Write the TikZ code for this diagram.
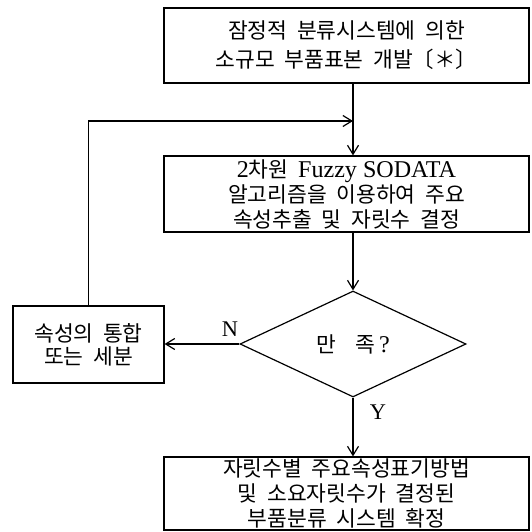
\documentclass[tikz,border=0pt]{standalone}
\usepackage{fontspec}
\setmainfont{Liberation Serif}[Scale=1.12]
\newfontfamily\kr{Noto Sans CJK KR}[WordSpace=2]
\usetikzlibrary{shapes.geometric,arrows.meta}
\newcommand\lat[1]{{\rmfamily #1}}
\tikzset{
  box/.style={draw, line width=1.2pt, minimum width=365pt, inner sep=0pt, align=center,
    font=\kr\fontsize{21.5}{25}\selectfont},
  conn/.style={line width=1.2pt, -{Straight Barb[length=9pt,width=11pt,line width=1.2pt]}},
  lbl/.style={font=\rmfamily\fontsize{20}{24}\selectfont, inner sep=0pt}
}
\begin{document}
\begin{tikzpicture}[x=1pt,y=-1pt]
\useasboundingbox (0,0) rectangle (531,532);
\node[box, minimum height=75pt, font=\kr\fontsize{21.5}{29}\selectfont] (top) at (346.5,45.5)
  {잠정적 분류시스템에 의한\\소규모 부품표본 개발〔＊〕};
\node[box, minimum height=76pt] (mid) at (346.5,194)
  {\lat{2}차원 \lat{Fuzzy SODATA}\\알고리즘을 이용하여 주요\\속성추출 및 자릿수 결정};
\node[diamond, draw, line width=1.2pt, minimum width=226pt, minimum height=106pt, inner sep=0pt,
  font=\kr\fontsize{21.5}{25}\selectfont] (dia) at (353,344) {만\hspace{0.9em}족\lat{\,?}};
\node[box, minimum width=151pt, minimum height=77pt, font=\kr\fontsize{21.5}{23}\selectfont] (left) at (88.5,344.5)
  {속성의 통합\\또는 세분};
\node[box, minimum height=73pt] (bot) at (346.5,493.5)
  {자릿수별 주요속성표기방법\\및 소요자릿수가 결정된\\부품분류 시스템 확정};
\node[lbl] (n) at (230,329) {N};
\node[lbl] (y) at (378,412) {Y};
\coordinate (join) at (353,121);
\draw[conn] (top.south -| join) -- (mid.north -| join);
\draw[conn] (left.north) |- (join);
\draw[conn] (mid.south -| dia.north) -- (dia.north);
\draw[conn] (dia.west) -- (left.east |- dia.west);
\draw[conn] (dia.south) -- (bot.north -| dia.south);
\end{tikzpicture}
\end{document}
